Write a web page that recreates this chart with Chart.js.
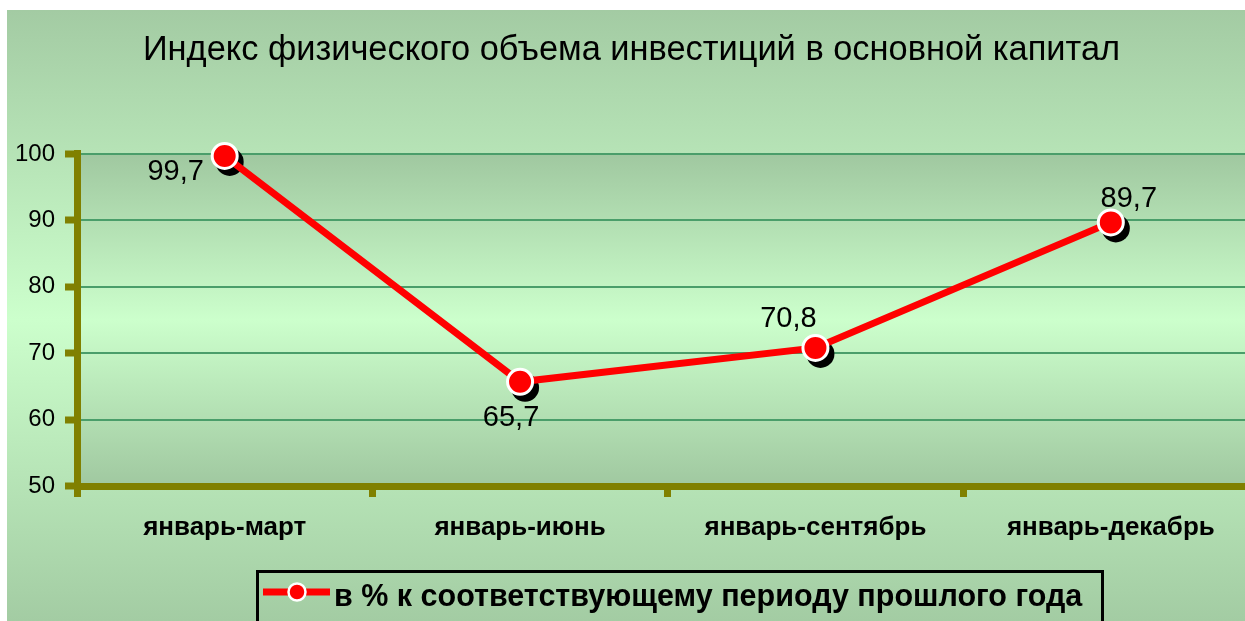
<!DOCTYPE html>
<html>
<head>
<meta charset="utf-8">
<script src="https://cdn.jsdelivr.net/npm/chart.js@4/dist/chart.umd.min.js"></script>
<style>
  html, body { margin: 0; padding: 0; background: #ffffff; overflow: hidden; }
  #wrap { position: absolute; left: 0; top: 0; width: 1274px; height: 621px; }
</style>
</head>
<body>
<div id="wrap"><canvas id="c" width="1274" height="621"></canvas></div>
<script>
// ---- data ----
const chartTitle = 'Индекс физического объема инвестиций в основной капитал';
const seriesLabel = 'в % к соответствующему периоду прошлого года';
const categories = ['январь-март', 'январь-июнь', 'январь-сентябрь', 'январь-декабрь'];
const values = [99.7, 65.7, 70.8, 89.7];
const yMin = 50;
const yMax = 100;
const yStep = 10;

// ---- style ----
const FONT = 'Arial, "Liberation Sans", sans-serif';
const OLIVE = '#808000';
const labelOffsets = [
  { dx: -49, dy: 24 },
  { dx: -9, dy: 44 },
  { dx: -27, dy: -21 },
  { dx: 18, dy: -15 }
];

const bgPlugin = {
  id: 'bgPlugin',
  beforeDraw(chart) {
    const { ctx, width, height, chartArea: a } = chart;
    ctx.save();
    ctx.fillStyle = '#ffffff';
    ctx.fillRect(0, 0, width, height);
    const g = ctx.createLinearGradient(0, 10, 0, height);
    g.addColorStop(0, '#a3cba3');
    g.addColorStop(0.507, '#ccffcc');
    g.addColorStop(1, '#a3cca3');
    ctx.fillStyle = g;
    ctx.fillRect(7, 10, width - 7, height - 10);
    const g2 = ctx.createLinearGradient(0, a.top, 0, a.bottom);
    g2.addColorStop(0, '#a0c8a0');
    g2.addColorStop(0.5, '#ccffcc');
    g2.addColorStop(1, '#a0c8a0');
    ctx.fillStyle = g2;
    ctx.fillRect(a.left, a.top, a.right - a.left, a.bottom - a.top);
    ctx.restore();
  }
};

const shadowPlugin = {
  id: 'shadowPlugin',
  beforeDatasetsDraw(chart) {
    const { ctx } = chart;
    const meta = chart.getDatasetMeta(0);
    ctx.save();
    ctx.fillStyle = '#000000';
    meta.data.forEach(p => {
      ctx.beginPath();
      ctx.arc(p.x + 5, p.y + 6, 14, 0, Math.PI * 2);
      ctx.fill();
    });
    ctx.restore();
  }
};

const labelPlugin = {
  id: 'labelPlugin',
  afterDatasetsDraw(chart) {
    const { ctx } = chart;
    const meta = chart.getDatasetMeta(0);
    const ds = chart.data.datasets[0];
    ctx.save();
    ctx.font = '29px ' + FONT;
    ctx.fillStyle = '#000000';
    ctx.textAlign = 'center';
    ctx.textBaseline = 'alphabetic';
    meta.data.forEach((p, i) => {
      const o = labelOffsets[i];
      const txt = String(ds.data[i]).replace('.', ',');
      ctx.fillText(txt, p.x + o.dx, p.y + o.dy);
    });
    ctx.restore();
  }
};

const legendPlugin = {
  id: 'legendPlugin',
  afterDraw(chart) {
    const { ctx } = chart;
    const ds = chart.data.datasets[0];
    ctx.save();
    ctx.strokeStyle = '#000000';
    ctx.lineWidth = 3;
    ctx.strokeRect(257.5, 571.5, 845, 70);
    ctx.strokeStyle = ds.borderColor;
    ctx.lineWidth = 7;
    ctx.beginPath();
    ctx.moveTo(263, 592);
    ctx.lineTo(330, 592);
    ctx.stroke();
    ctx.beginPath();
    ctx.arc(297, 592, 8.5, 0, Math.PI * 2);
    ctx.fillStyle = ds.pointBackgroundColor;
    ctx.fill();
    ctx.lineWidth = 2.5;
    ctx.strokeStyle = '#ffffff';
    ctx.stroke();
    ctx.font = 'bold 30.5px ' + FONT;
    ctx.fillStyle = '#000000';
    ctx.textAlign = 'left';
    ctx.textBaseline = 'alphabetic';
    ctx.fillText(ds.label, 334, 606);
    ctx.restore();
  }
};

new Chart(document.getElementById('c'), {
  type: 'line',
  data: {
    labels: categories,
    datasets: [{
      label: seriesLabel,
      data: values,
      borderColor: '#ff0000',
      borderWidth: 7,
      pointBackgroundColor: '#ff0000',
      pointBorderColor: '#ffffff',
      pointBorderWidth: 3,
      pointRadius: 12.5,
      pointHoverRadius: 12.5,
      tension: 0,
      clip: false
    }]
  },
  options: {
    responsive: false,
    animation: false,
    devicePixelRatio: 1,
    events: [],
    layout: { padding: { left: -9, right: 2, top: 0, bottom: 0 } },
    plugins: {
      legend: { display: false },
      tooltip: { enabled: false },
      title: {
        display: true,
        text: chartTitle,
        color: '#000000',
        font: { family: FONT, size: 34.4, weight: 'normal', lineHeight: 1.2 },
        padding: { top: 29.4, bottom: 83.3 }
      }
    },
    scales: {
      x: {
        type: 'category',
        offset: true,
        grid: {
          offset: true,
          drawOnChartArea: false,
          drawTicks: true,
          tickLength: 11,
          tickWidth: 7,
          tickColor: OLIVE
        },
        border: { display: true, color: OLIVE, width: 7 },
        ticks: {
          color: '#000000',
          font: { family: FONT, size: 26, weight: 'bold' },
          padding: 15,
          maxRotation: 0,
          autoSkip: false
        },
        afterFit(scale) {
          scale.height = 135;
          scale.paddingLeft = 0;
          scale.paddingRight = 0;
        }
      },
      y: {
        min: yMin,
        max: yMax,
        ticks: {
          stepSize: yStep,
          color: '#000000',
          font: { family: FONT, size: 24, weight: 'normal' },
          padding: 10
        },
        grid: {
          color: '#4a9e6a',
          lineWidth: 2,
          drawTicks: true,
          tickLength: 12,
          tickWidth: 7,
          tickColor: OLIVE
        },
        border: { display: true, color: OLIVE, width: 7 },
        afterFit(scale) { scale.width = 86; }
      }
    }
  },
  plugins: [bgPlugin, shadowPlugin, labelPlugin, legendPlugin]
});
</script>
</body>
</html>
